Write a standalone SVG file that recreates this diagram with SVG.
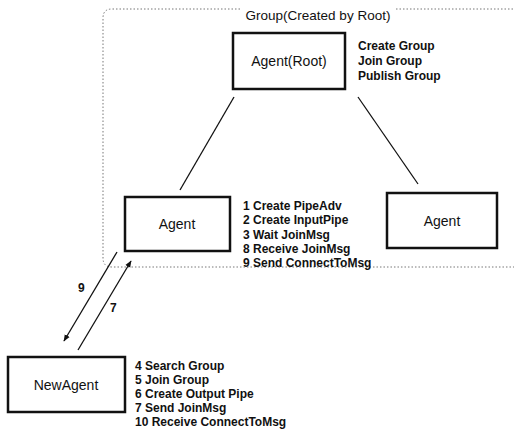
<svg xmlns="http://www.w3.org/2000/svg" width="514" height="431" viewBox="0 0 514 431">
<style>
.box{fill:#fff;stroke:#111;stroke-width:2.5}
.bt{font-family:"Liberation Sans",Arial,sans-serif;font-size:14px;fill:#111;text-anchor:middle}
.tt{font-family:"Liberation Sans",Arial,sans-serif;font-size:13.5px;fill:#111;text-anchor:middle}
.lb{font-family:"Liberation Sans",Arial,sans-serif;font-size:12px;font-weight:bold;fill:#111}
.grp{fill:none;stroke:#777;stroke-width:1;stroke-dasharray:1.5 2}
.ln{stroke:#111;stroke-width:1.3;fill:none}
</style>
<defs>
<marker id="ah" viewBox="0 0 10 10" refX="9" refY="5" markerWidth="7" markerHeight="7" orient="auto" markerUnits="userSpaceOnUse">
<path d="M0,1 L10,5 L0,9 z" fill="#111"/>
</marker>
</defs>
<rect width="514" height="431" fill="#fff"/>
<g id="group">
<path class="grp" d="M240,9 L112,9 Q103,9 103,18 L103,258 Q103,267 112,267 L514,267"/>
<path class="grp" d="M396,9 L514,9"/>
<text class="tt" x="318" y="20">Group(Created by Root)</text>
</g>
<g id="connectors">
<line class="ln" x1="234" y1="97" x2="180" y2="190"/>
<line class="ln" x1="358" y1="97" x2="418" y2="184"/>
<line class="ln" x1="117" y1="252" x2="64" y2="341" marker-end="url(#ah)"/>
<line class="ln" x1="78" y1="350" x2="131" y2="261" marker-end="url(#ah)"/>
<text class="lb" x="78" y="292">9</text>
<text class="lb" x="110" y="312">7</text>
</g>
<g id="root">
<rect class="box" x="233" y="33" width="112" height="56"/>
<text class="bt" x="289" y="66">Agent(Root)</text>
<text class="lb" x="358" y="50">Create Group</text>
<text class="lb" x="358" y="65">Join Group</text>
<text class="lb" x="358" y="80">Publish Group</text>
</g>
<g id="agent-left">
<rect class="box" x="125" y="197" width="105" height="54"/>
<text class="bt" x="177" y="229">Agent</text>
<text class="lb" x="243" y="210">1 Create PipeAdv</text>
<text class="lb" x="243" y="224">2 Create InputPipe</text>
<text class="lb" x="243" y="239">3 Wait JoinMsg</text>
<text class="lb" x="243" y="253">8 Receive JoinMsg</text>
<text class="lb" x="243" y="267">9 Send ConnectToMsg</text>
</g>
<g id="agent-right">
<rect class="box" x="387" y="193" width="110" height="55"/>
<text class="bt" x="442" y="226">Agent</text>
</g>
<g id="newagent">
<rect class="box" x="8" y="357" width="117" height="55"/>
<text class="bt" x="66" y="390">NewAgent</text>
<text class="lb" x="135" y="370">4 Search Group</text>
<text class="lb" x="135" y="384">5 Join Group</text>
<text class="lb" x="135" y="398">6 Create Output Pipe</text>
<text class="lb" x="135" y="412">7 Send JoinMsg</text>
<text class="lb" x="135" y="426">10 Receive ConnectToMsg</text>
</g>
</svg>
